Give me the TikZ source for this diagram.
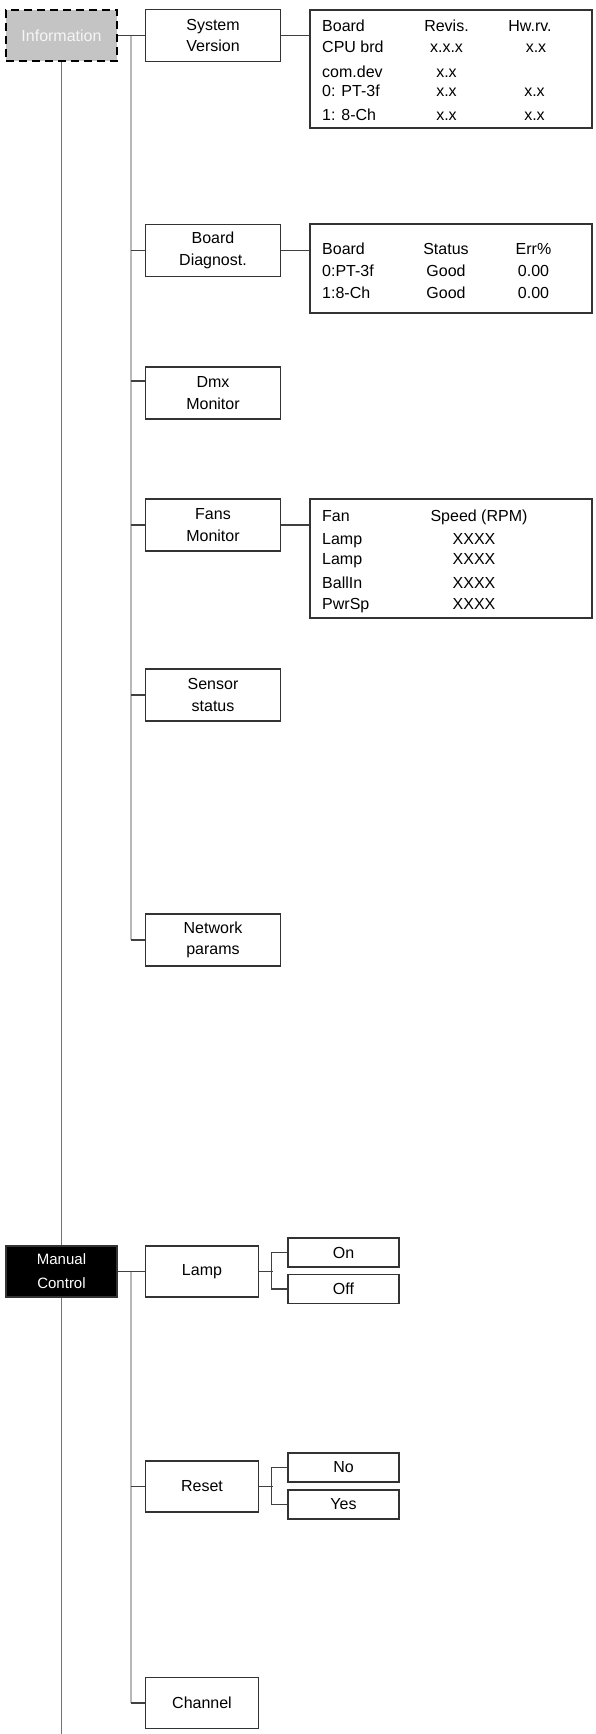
\documentclass[tikz,border=0pt]{standalone}
\usepackage{fontspec}
\setmainfont{Liberation Sans}
\begin{document}
\begin{tikzpicture}[x=1pt, y=-1pt,
  menu/.style={draw=black!80, line width=1.2pt, fill=white, minimum width=135pt,
    minimum height=52pt, inner sep=0pt, align=center, font=\fontsize{16}{21.5}\selectfont},
  submenu/.style={menu, minimum width=113pt, minimum height=51pt},
  option/.style={menu, minimum width=111pt, minimum height=29pt},
  tablebox/.style={draw=black!80, line width=1.2pt, minimum width=282pt, inner sep=0pt},
  cell/.style={inner sep=0pt, font=\fontsize{16}{19}\selectfont},
  link/.style={draw=black!75, line width=1.3pt},
  trunk/.style={draw=black!55, line width=1.8pt},
  bus/.style={draw=black!28, line width=1.8pt}]
  \useasboundingbox (0,0) rectangle (595,1734);
  % top level
  \node[menu, minimum width=111pt, minimum height=51pt, fill=black!23, text=black!4,
    draw=black, line width=2.4pt, dash pattern=on 8pt off 5pt] (info) at (61.5,35.5) {Information};
  \node[menu, minimum width=111pt, minimum height=51pt, fill=black, text=white,
    font=\fontsize{15}{24}\selectfont] (man) at (61.5,1271.5) {Manual\\Control};
  \coordinate (bus) at (131,0);
  \coordinate (trunkend) at (61.5,1734);
  \draw[trunk] (info.south) -- (man.north);
  \draw[trunk] (man.south) -- (trunkend);

  % information branch
  \node[menu] (sys) at (213,35.5) {System\\Version};
  \node[menu] (diag) at (213,250.5) {Board\\Diagnost.};
  \node[menu] (dmx) at (213,393) {Dmx\\Monitor};
  \node[menu] (fans) at (213,525) {Fans\\Monitor};
  \node[menu] (sensor) at (213,695) {Sensor\\status};
  \node[menu] (net) at (213,940) {Network\\params};
  \draw[bus] (info.east -| bus) -- (net.west -| bus);
  \draw[link] (info.east) -- (sys.west);
  \draw[link] (diag.west -| bus) -- (diag.west);
  \draw[link] ([yshift=12pt]dmx.west -| bus) -- ([yshift=12pt]dmx.west);
  \draw[link] (fans.west -| bus) -- (fans.west);
  \draw[link] (sensor.west -| bus) -- (sensor.west);
  \draw[link] (net.west -| bus) -- (net.west);

  \node[tablebox, minimum height=118pt] (ver) at (451,69) {};
  \foreach \yy/\a/\b/\xc/\c [count=\i] in {31.5/Board/Revis./530/Hw.rv., 53/CPU brd/x.x.x/536/x.x,
      78/com.dev/x.x/535/, 97/0: PT-3f/x.x/534.5/x.x, 120.5/1: 8-Ch/x.x/534.5/x.x} {
    \node[cell, anchor=base west] (vera\i) at (322,\yy) {\a};
    \node[cell, anchor=base] (verb\i) at (446.5,\yy) {\b};
    \node[cell, anchor=base] (verc\i) at (\xc,\yy) {\c};
  }
  \draw[link] (sys.east) -- (sys.east -| ver.west);

  \node[tablebox, minimum height=89pt] (stat) at (451,268.5) {};
  \foreach \yy/\a/\b/\c [count=\i] in {254/Board/Status/Err\%,
      276/0:PT-3f/Good/0.00, 298/1:8-Ch/Good/0.00} {
    \node[cell, anchor=base west] (stata\i) at (322,\yy) {\a};
    \node[cell, anchor=base] (statb\i) at (446,\yy) {\b};
    \node[cell, anchor=base] (statc\i) at (533.5,\yy) {\c};
  }
  \draw[link] (diag.east) -- (diag.east -| stat.west);

  \node[tablebox, minimum height=119pt] (rpm) at (451,558.5) {};
  \node[cell, anchor=base west] (rpma0) at (322,521) {Fan};
  \node[cell, anchor=base] (rpmb0) at (479,521) {Speed (RPM)};
  \foreach \yy/\a [count=\i] in {544/Lamp, 564/Lamp, 588/BallIn, 609/PwrSp} {
    \node[cell, anchor=base west] (rpma\i) at (322,\yy) {\a};
    \node[cell, anchor=base] (rpmb\i) at (474,\yy) {XXXX};
  }
  \draw[link] (fans.east) -- (fans.east -| rpm.west);

  % manual control branch
  \node[submenu] (lamp) at (202,1271.5) {Lamp};
  \node[submenu] (reset) at (202,1486.5) {Reset};
  \node[submenu] (chan) at (202,1703) {Channel};
  \draw[bus] (man.east -| bus) -- (chan.west -| bus);
  \draw[link] (man.east) -- (lamp.west);
  \draw[link] (reset.west -| bus) -- (reset.west);
  \draw[link] (chan.west -| bus) -- (chan.west);

  \node[option] (on) at (343.5,1252.5) {On};
  \node[option] (off) at (343.5,1289) {Off};
  \node[option] (no) at (343.5,1467.5) {No};
  \node[option] (yes) at (343.5,1504.5) {Yes};
  \draw[link] (lamp.east) -- ++(14,0);
  \draw[link] (on.west) -- ++(-16,0) |- (off.west);
  \draw[link] (reset.east) -- ++(14,0);
  \draw[link] (no.west) -- ++(-16,0) |- (yes.west);
\end{tikzpicture}
\end{document}
